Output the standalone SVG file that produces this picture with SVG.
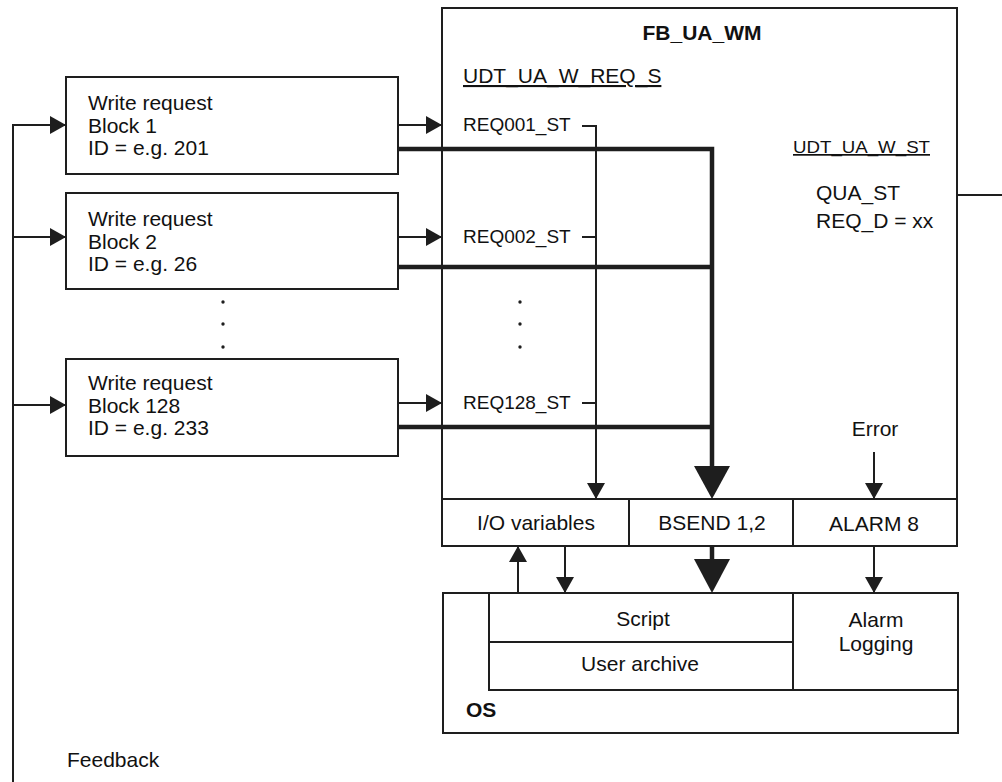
<svg xmlns="http://www.w3.org/2000/svg" width="1002" height="782" viewBox="0 0 1002 782">
<style>
.box{fill:#fff;stroke:#1e1e1e;stroke-width:2}
.ln{fill:none;stroke:#1e1e1e;stroke-width:2}
.thk{fill:none;stroke:#1e1e1e;stroke-width:4.5}
.hd{fill:#1e1e1e;stroke:none}
text{font-family:"Liberation Sans",Arial,sans-serif;font-size:21px;fill:#111}
.b{font-weight:bold}
.c{text-anchor:middle}
.u{text-decoration:underline}
.req{font-size:19px}
</style>
<defs>
<marker id="ar" markerUnits="userSpaceOnUse" markerWidth="16" markerHeight="18" refX="16" refY="9" orient="auto">
<path d="M0,0 L16,9 L0,18 z" class="hd"/>
</marker>
</defs>
<g id="block1">
<rect class="box" x="66" y="77" width="332" height="97"/>
<text x="88" y="110">Write request</text>
<text x="88" y="133">Block 1</text>
<text x="88" y="155">ID = e.g. 201</text>
</g>
<g id="block2">
<rect class="box" x="66" y="193" width="332" height="96"/>
<text x="88" y="226">Write request</text>
<text x="88" y="249">Block 2</text>
<text x="88" y="271">ID = e.g. 26</text>
</g>
<g id="dots-left" class="hd">
<circle cx="223" cy="302" r="1.7"/>
<circle cx="223" cy="324" r="1.7"/>
<circle cx="223" cy="347" r="1.7"/>
</g>
<g id="block128">
<rect class="box" x="66" y="359" width="332" height="97"/>
<text x="88" y="390">Write request</text>
<text x="88" y="413">Block 128</text>
<text x="88" y="435">ID = e.g. 233</text>
</g>
<g id="fb_ua_wm">
<rect class="box" x="442" y="8" width="515" height="538"/>
<text class="b" x="702" y="40" text-anchor="middle">FB_UA_WM</text>
<text class="u" x="463" y="83">UDT_UA_W_REQ_S</text>
<text class="req" x="463" y="131">REQ001_ST</text>
<text class="req" x="463" y="243">REQ002_ST</text>
<g class="hd">
<circle cx="520" cy="302" r="1.7"/>
<circle cx="520" cy="324" r="1.7"/>
<circle cx="520" cy="347" r="1.7"/>
</g>
<text class="req" x="463" y="409">REQ128_ST</text>
<text class="u" x="793" y="153" style="font-size:17px" textLength="137" lengthAdjust="spacingAndGlyphs">UDT_UA_W_ST</text>
<text x="816" y="200">QUA_ST</text>
<text x="816" y="228">REQ_D = xx</text>
<text class="c" x="875" y="436">Error</text>
</g>
<g id="io_variables">
<rect class="box" x="442" y="499" width="187" height="47"/>
<text class="c" x="536" y="530">I/O variables</text>
</g>
<g id="bsend">
<rect class="box" x="629" y="499" width="164" height="47"/>
<text class="c" x="712" y="530">BSEND 1,2</text>
</g>
<g id="alarm8">
<rect class="box" x="793" y="499" width="164" height="47"/>
<text class="c" x="874" y="531">ALARM 8</text>
</g>
<g id="os">
<rect class="box" x="443" y="593" width="515" height="140"/>
<text class="b" x="466" y="717">OS</text>
</g>
<g id="script">
<rect class="box" x="489" y="593" width="304" height="49"/>
<text class="c" x="643" y="626">Script</text>
</g>
<g id="user_archive">
<rect class="box" x="489" y="642" width="304" height="48"/>
<text class="c" x="640" y="671">User archive</text>
</g>
<g id="alarm_logging">
<rect class="box" x="793" y="593" width="165" height="97"/>
<text class="c" x="876" y="627">Alarm</text>
<text class="c" x="876" y="651">Logging</text>
</g>
<g id="connectors">
<path class="ln" d="M13,782 V125"/>
<path class="ln" d="M12,125 H66" marker-end="url(#ar)"/>
<path class="ln" d="M13,237 H66" marker-end="url(#ar)"/>
<path class="ln" d="M13,405 H66" marker-end="url(#ar)"/>
<text x="67" y="767">Feedback</text>
<path class="ln" d="M398,125 H442" marker-end="url(#ar)"/>
<path class="ln" d="M398,237 H442" marker-end="url(#ar)"/>
<path class="ln" d="M398,403 H442" marker-end="url(#ar)"/>
<path class="ln" d="M582,126 H596 V499" marker-end="url(#ar)"/>
<path class="ln" d="M582,237 H596"/>
<path class="ln" d="M582,403 H596"/>
<path class="thk" d="M398,149 H712 V468"/>
<path class="thk" d="M398,267 H712"/>
<path class="thk" d="M398,427 H712"/>
<path class="hd" d="M694,466 L730,466 L712,499 z"/>
<path class="ln" d="M874,452 V499" marker-end="url(#ar)"/>
<path class="ln" d="M957,195 H1002"/>
<path class="ln" d="M518,593 V546" marker-end="url(#ar)"/>
<path class="ln" d="M565,546 V593" marker-end="url(#ar)"/>
<path class="thk" d="M712,546 V562"/>
<path class="hd" d="M694,559 L730,559 L712,593 z"/>
<path class="ln" d="M874,546 V593" marker-end="url(#ar)"/>
</g>
</svg>
